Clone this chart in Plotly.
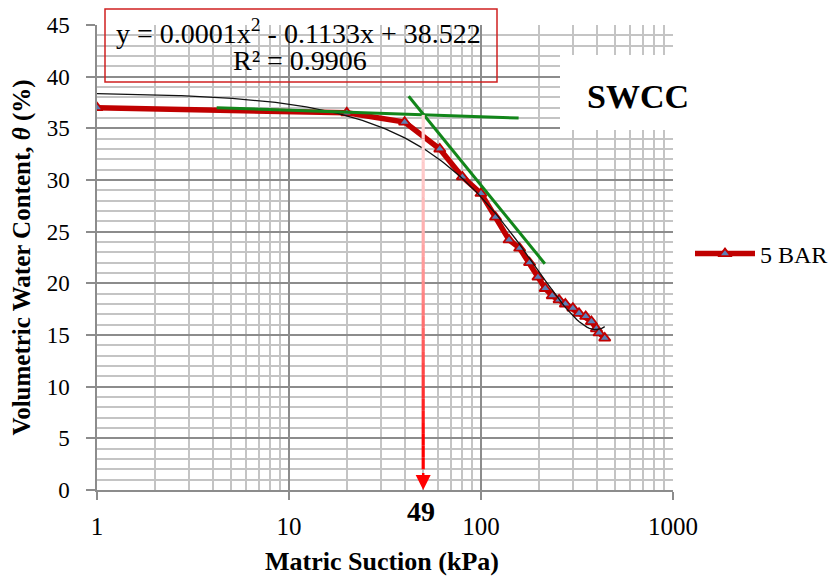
import numpy as np
import plotly.graph_objects as go

# ---------------- data ----------------
suction_kpa = [1, 20, 40, 61, 80, 100, 119, 140, 159, 179, 198, 216, 235,
               255, 275, 301, 324, 351, 376, 399, 412, 441]
theta_pct = [37.0, 36.5, 35.6, 33.0, 30.3, 28.7, 26.4, 24.2, 23.4, 22.0, 20.6,
             19.5, 18.8, 18.4, 18.0, 17.6, 17.1, 16.8, 16.3, 15.6, 15.2, 14.7]
series_name = "5 BAR"

tangent1_x = [4.2, 157]
tangent1_y = [37.0, 36.0]
tangent2_x = [42, 215]
tangent2_y = [38.1, 21.9]

aev_x = 50          # air-entry value arrow position (kPa)
aev_top = 36.3      # where the tangents meet
aev_label = "49"

x_tick_vals = [1, 10, 100, 1000]
x_tick_text = ["1", "10", "100", "1000"]
x_minor_vals = [d * 10 ** k for k in range(3) for d in range(2, 10)]
y_tick_vals = list(range(0, 50, 5))
y_minor_vals = [v for v in range(0, 46) if v % 5]

x_title = "Matric Suction (kPa)"
y_title = "Volumetric Water Content, <i>θ</i> (%)"
eq_line1 = "y = 0.0001x<sup>2</sup> - 0.1133x + 38.522"
eq_line2 = "R² = 0.9906"
chart_label = "SWCC"

# ---------------- layout geometry ----------------
# the page body has an 8 px margin at the left and top
OFF = 8
W, H = 837 - 2 * OFF, 576 - OFF
L, R, T, B = 97, 673, 25, 490      # plot area in window pixels
PW, PH = R - L, B - T


def px(xp):
    return (xp - L) / PW


def py(yp):
    return (B - yp) / PH


FONT = "Liberation Serif"
RED = "#C00000"
GREEN = "#12861A"

# trendline (2nd order polynomial of the data, as in the spreadsheet)
coef = np.polyfit(suction_kpa, theta_pct, 2)
trend_x = np.logspace(0, np.log10(max(suction_kpa)), 200)
trend_y = np.polyval(coef, trend_x)

fig = go.Figure()

fig.add_trace(go.Scatter(
    x=suction_kpa, y=theta_pct, name=series_name, mode="lines+markers",
    line=dict(color=RED, width=5.5),
    marker=dict(symbol="triangle-up", size=10, color="#5B7FB5",
                line=dict(color=RED, width=1.8)),
    showlegend=True,
))
fig.add_trace(go.Scatter(
    x=trend_x, y=trend_y, mode="lines", line=dict(color="#111111", width=1.3),
    showlegend=False, hoverinfo="skip",
))
fig.add_trace(go.Scatter(
    x=tangent1_x, y=tangent1_y, mode="lines", line=dict(color=GREEN, width=3),
    showlegend=False,
))
fig.add_trace(go.Scatter(
    x=tangent2_x, y=tangent2_y, mode="lines", line=dict(color=GREEN, width=3),
    showlegend=False,
))

# equation box and label box
fig.add_shape(type="rect", xref="paper", yref="paper",
              x0=px(105), x1=px(497), y0=py(82), y1=py(9),
              line=dict(color="#D02020", width=1.5), fillcolor="rgba(0,0,0,0)")
fig.add_shape(type="rect", xref="paper", yref="paper",
              x0=px(560), x1=px(712), y0=py(130), y1=py(55),
              line=dict(width=0), fillcolor="white", layer="above")

ann_font = dict(family=FONT, size=28, color="black")
fig.add_annotation(xref="paper", yref="paper", x=px(298), y=py(32),
                   text=eq_line1, showarrow=False, font=ann_font,
                   xanchor="center", yanchor="middle")
fig.add_annotation(xref="paper", yref="paper", x=px(300), y=py(61),
                   text=eq_line2, showarrow=False, font=ann_font,
                   xanchor="center", yanchor="middle")
fig.add_annotation(xref="paper", yref="paper", x=px(638), y=py(96),
                   text="<b>" + chart_label + "</b>", showarrow=False,
                   font=dict(family=FONT, size=34, color="black"),
                   xanchor="center", yanchor="middle")

# axis title under the x axis
fig.add_annotation(xref="paper", yref="paper", x=px(382), y=py(561),
                   text="<b>" + x_title + "</b>", showarrow=False,
                   font=dict(family=FONT, size=26, color="black"),
                   xanchor="center", yanchor="middle")

# air entry arrow: shaft fading from pale pink (top) to red (bottom)
arrow_xp = np.log10(aev_x) / 3.0          # paper x of the arrow on the log axis
n_seg = 30
edges = np.linspace(aev_top, 2.0, n_seg + 1)
for i in range(n_seg):
    mix = min(1.0, ((i + 0.5) / n_seg) ** 1.6 * 1.15)
    g = int(round(215 * (1 - mix)))
    fig.add_shape(type="line", xref="paper", yref="y",
                  x0=arrow_xp, x1=arrow_xp, y0=edges[i], y1=edges[i + 1],
                  line=dict(color=f"rgb(255,{g},{g})", width=3.2))
fig.add_annotation(x=np.log10(aev_x), y=0, ax=np.log10(aev_x), ay=3.0,
                   xref="x", yref="y", axref="x", ayref="y",
                   showarrow=True, arrowhead=2, arrowsize=1.2, arrowwidth=2.5,
                   arrowcolor="#FF0000", text=" ")
fig.add_annotation(xref="paper", yref="paper", x=px(421), y=py(511),
                   text="<b>" + aev_label + "</b>", showarrow=False,
                   font=dict(family=FONT, size=28, color="black"),
                   xanchor="center", yanchor="middle")

grid_major = "#8C8C8C"
grid_minor = "#C4C4C4"

fig.update_layout(
    width=W, height=H,
    margin=dict(l=L - OFF, r=W - (R - OFF), t=T - OFF, b=H - (B - OFF),
                autoexpand=False),
    paper_bgcolor="white", plot_bgcolor="white",
    font=dict(family=FONT, size=23, color="black"),
    showlegend=True,
    legend=dict(x=px(690), y=py(254), xanchor="left", yanchor="middle",
                font=dict(family=FONT, size=24, color="black"),
                bgcolor="rgba(0,0,0,0)", itemwidth=60),
    xaxis=dict(
        type="log", range=[0, 3],
        tickvals=x_tick_vals, ticktext=x_tick_text,
        tickfont=dict(family=FONT, size=25, color="black"),
        ticks="outside", ticklen=8, tickcolor=grid_major, tickwidth=1.5,
        showline=True, linecolor=grid_major, linewidth=1.5,
        showgrid=True, gridcolor=grid_major, gridwidth=1.5,
        minor=dict(tickvals=x_minor_vals, showgrid=True, gridcolor=grid_minor,
                   gridwidth=1.5, ticks=""),
        ticklabelstandoff=5,
        zeroline=False,
    ),
    yaxis=dict(
        range=[0, 45], tickvals=y_tick_vals,
        tickfont=dict(family=FONT, size=23, color="black"),
        ticks="outside", ticklen=9, tickcolor=grid_major, tickwidth=1.5,
        showline=True, linecolor=grid_major, linewidth=1.5,
        showgrid=True, gridcolor=grid_major, gridwidth=1.5,
        minor=dict(tickvals=y_minor_vals, showgrid=True, gridcolor=grid_minor,
                   gridwidth=1.5, ticks=""),
        ticklabelstandoff=12,
        title=dict(text="<b>" + y_title + "</b>",
                   font=dict(family=FONT, size=25, color="black")),
        zeroline=False,
    ),
)

fig.write_html("out.html")
